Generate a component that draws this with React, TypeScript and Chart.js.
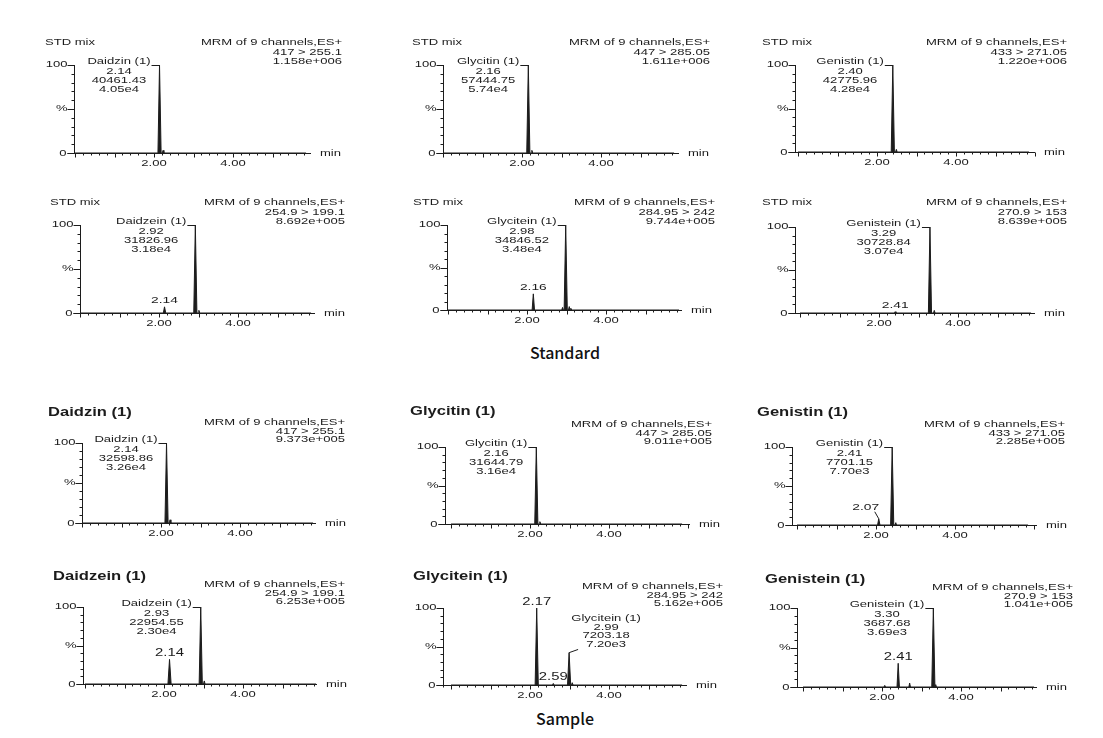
import React, { useEffect, useRef } from "react";
import { Chart, registerables } from "chart.js";

Chart.register(...registerables);

// ---------------- DATA ----------------
const compounds = ["Daidzin (1)", "Glycitin (1)", "Genistin (1)", "Daidzein (1)", "Glycitein (1)", "Genistein (1)"];
const transitions = ["417 > 255.1", "447 > 285.05", "433 > 271.05", "254.9 > 199.1", "284.95 > 242", "270.9 > 153"];
const headerText = "MRM of 9 channels,ES+";
const stdTitle = "STD mix";
const xTickLabels = [2, 4];

const stdMaxIntensity = ["1.158e+006", "1.611e+006", "1.220e+006", "8.692e+005", "9.744e+005", "8.639e+005"];
const stdRT = [2.14, 2.16, 2.4, 2.92, 2.98, 3.29];
const stdArea = ["40461.43", "57444.75", "42775.96", "31826.96", "34846.52", "30728.84"];
const stdHeight = ["4.05e4", "5.74e4", "4.28e4", "3.18e4", "3.48e4", "3.07e4"];
const stdMinorRT = [[], [], [], [2.14], [2.16], [2.41]];

const sampleMaxIntensity = ["9.373e+005", "9.011e+005", "2.285e+005", "6.253e+005", "5.162e+005", "1.041e+005"];
const sampleRT = [2.14, 2.16, 2.41, 2.93, 2.99, 3.3];
const sampleArea = ["32598.86", "31644.79", "7701.15", "22954.55", "7203.18", "3687.68"];
const sampleHeight = ["3.26e4", "3.16e4", "7.70e3", "2.30e4", "7.20e3", "3.69e3"];
const sampleMinorRT = [[], [], [2.07], [2.14], [2.17, 2.59], [2.41]];

// traces: retention time (min) and relative intensity (%)
const stdDaidzinTime = [0, 2.1, 2.14, 2.18, 2.21, 2.23, 2.25, 5.85];
const stdDaidzinInt = [0, 0, 100, 0, 0, 3, 0, 0];
const stdGlycitinTime = [0, 2.12, 2.16, 2.2, 2.23, 2.25, 2.27, 5.85];
const stdGlycitinInt = [0, 0, 100, 0, 0, 3, 0, 0];
const stdGenistinTime = [0, 2.36, 2.4, 2.44, 2.47, 2.49, 2.51, 5.85];
const stdGenistinInt = [0, 0, 100, 0, 0, 3, 0, 0];
const stdDaidzeinTime = [0, 2.11, 2.14, 2.17, 2.88, 2.92, 2.96, 2.99, 3.01, 3.03, 5.85];
const stdDaidzeinInt = [0, 0, 7, 0, 0, 100, 0, 0, 3, 0, 0];
const stdGlyciteinTime = [0, 2.13, 2.16, 2.19, 2.88, 2.9, 2.92, 2.94, 2.98, 3.02, 3.05, 3.07, 3.09, 3.11, 3.13, 5.85];
const stdGlyciteinInt = [0, 0, 19, 0, 0, 3, 0, 0, 100, 0, 0, 4, 0, 2, 0, 0];
const stdGenisteinTime = [0, 2.39, 2.41, 2.43, 3.25, 3.29, 3.33, 3.38, 3.4, 3.42, 5.85];
const stdGenisteinInt = [0, 0, 1.5, 0, 0, 100, 0, 0, 3, 0, 0];

const smpDaidzinTime = [0, 2.1, 2.14, 2.18, 2.21, 2.23, 2.25, 5.85];
const smpDaidzinInt = [0, 0, 100, 0, 0, 4, 0, 0];
const smpGlycitinTime = [0, 2.12, 2.16, 2.2, 2.23, 2.25, 2.27, 5.85];
const smpGlycitinInt = [0, 0, 100, 0, 0, 3, 0, 0];
const smpGenistinTime = [0, 2.04, 2.07, 2.1, 2.37, 2.41, 2.45, 2.48, 2.5, 2.52, 5.85];
const smpGenistinInt = [0, 0, 8, 0, 0, 100, 0, 0, 3, 0, 0];
const smpDaidzeinTime = [0, 2.1, 2.14, 2.18, 2.89, 2.93, 2.97, 3.0, 3.02, 3.04, 5.85];
const smpDaidzeinInt = [0, 0, 32, 0, 0, 100, 0, 0, 4, 0, 0];
const smpGlyciteinTime = [0, 2.13, 2.17, 2.21, 2.57, 2.59, 2.61, 2.95, 2.99, 3.03, 3.05, 3.07, 3.09, 5.85];
const smpGlyciteinInt = [0, 0, 100, 0, 0, 2, 0, 0, 42, 0, 0, 3, 0, 0];
const smpGenisteinTime = [0, 2.05, 2.07, 2.09, 2.38, 2.41, 2.44, 2.68, 2.7, 2.72, 3.26, 3.3, 3.34, 3.36, 3.38, 5.85];
const smpGenisteinInt = [0, 0, 2, 0, 0, 30, 0, 0, 5, 0, 0, 100, 0, 3, 0, 0];

const stdTimes = [stdDaidzinTime, stdGlycitinTime, stdGenistinTime, stdDaidzeinTime, stdGlyciteinTime, stdGenisteinTime];
const stdInts = [stdDaidzinInt, stdGlycitinInt, stdGenistinInt, stdDaidzeinInt, stdGlyciteinInt, stdGenisteinInt];
const smpTimes = [smpDaidzinTime, smpGlycitinTime, smpGenistinTime, smpDaidzeinTime, smpGlyciteinTime, smpGenisteinTime];
const smpInts = [smpDaidzinInt, smpGlycitinInt, smpGenistinInt, smpDaidzeinInt, smpGlyciteinInt, smpGenisteinInt];

// ---------------- LAYOUT ----------------
const PX_PER_MIN = 39.5;
const SX = 1.45;
const FS = 9;
const FONT = '"Liberation Sans", Arial, Helvetica, sans-serif';
const INK = "#1c1c1c";

type Layout = {
  axisX: number; zeroX: number; axisEnd: number; top: number; bottom: number;
  titleX: number; titleY: number; hdrRight: number; hdrY: number; gap: number;
  annot?: { dx: number; dy: number };
  minorOff?: { dx: number; dy: number; leader?: boolean }[];
  minorSize?: number;
};

const stdLayout: Layout[] = [
  { axisX: 74, zeroX: 75, axisEnd: 311, top: 65, bottom: 153, titleX: 45, titleY: 43, hdrRight: 342, hdrY: 43, gap: 9.5 },
  { axisX: 443, zeroX: 443, axisEnd: 679, top: 65, bottom: 153, titleX: 412, titleY: 43, hdrRight: 710, hdrY: 43, gap: 9.5 },
  { axisX: 795, zeroX: 798, axisEnd: 1035, top: 65, bottom: 152, titleX: 762, titleY: 43, hdrRight: 1067, hdrY: 43, gap: 9.5 },
  { axisX: 80, zeroX: 80, axisEnd: 315, top: 225, bottom: 313, titleX: 50, titleY: 203, hdrRight: 345, hdrY: 203, gap: 9.5 },
  { axisX: 447, zeroX: 448, axisEnd: 682, top: 225, bottom: 310, titleX: 413, titleY: 203, hdrRight: 715, hdrY: 203, gap: 9.5 },
  { axisX: 795, zeroX: 800, axisEnd: 1035, top: 227, bottom: 313, titleX: 762, titleY: 203, hdrRight: 1067, hdrY: 203, gap: 9.5 },
];
const smpLayout: Layout[] = [
  { axisX: 82, zeroX: 82, axisEnd: 316, top: 443, bottom: 523, titleX: 48, titleY: 413, hdrRight: 345, hdrY: 423, gap: 8.5 },
  { axisX: 445, zeroX: 451, axisEnd: 690, top: 447, bottom: 524, titleX: 410, titleY: 412, hdrRight: 712, hdrY: 425, gap: 8.5 },
  { axisX: 792, zeroX: 797, axisEnd: 1037, top: 447, bottom: 525, titleX: 757, titleY: 413, hdrRight: 1065, hdrY: 425, gap: 8.5, minorOff: [{ dx: -13, dy: -11, leader: true }] },
  { axisX: 83, zeroX: 85, axisEnd: 317, top: 607, bottom: 684, titleX: 53, titleY: 577, hdrRight: 345, hdrY: 585, gap: 8.5, minorSize: 11 },
  { axisX: 443, zeroX: 451, axisEnd: 687, top: 608, bottom: 685, titleX: 413, titleY: 577, hdrRight: 723, hdrY: 587, gap: 8.5, annot: { dx: 37, dy: -34 }, minorSize: 11 },
  { axisX: 797, zeroX: 803, axisEnd: 1037, top: 608, bottom: 687, titleX: 765, titleY: 580, hdrRight: 1073, hdrY: 588, gap: 8.5, minorSize: 11 },
];

type Panel = {
  L: Layout; time: number[]; ints: number[]; title: string; boldTitle: boolean;
  hdr: string[]; rt: number; area: string; height: string; name: string; minor: number[];
};

const panels: Panel[] = [
  ...stdLayout.map((L, i) => ({
    L, time: stdTimes[i], ints: stdInts[i], title: stdTitle, boldTitle: false,
    hdr: [headerText, transitions[i], stdMaxIntensity[i]], rt: stdRT[i], area: stdArea[i], height: stdHeight[i],
    name: compounds[i], minor: stdMinorRT[i],
  })),
  ...smpLayout.map((L, i) => ({
    L, time: smpTimes[i], ints: smpInts[i], title: compounds[i], boldTitle: true,
    hdr: [headerText, transitions[i], sampleMaxIntensity[i]], rt: sampleRT[i], area: sampleArea[i], height: sampleHeight[i],
    name: compounds[i], minor: sampleMinorRT[i],
  })),
];

function txt(ctx: CanvasRenderingContext2D, s: string, x: number, y: number, align: "left" | "right" | "center", size = FS, bold = false, sx = SX) {
  ctx.save();
  ctx.font = `${bold ? "bold " : ""}${size}px ${FONT}`;
  const w = ctx.measureText(s).width * sx;
  let lx = x;
  if (align === "right") lx = x - w;
  else if (align === "center") lx = x - w / 2;
  ctx.translate(lx, y);
  ctx.scale(sx, 1);
  ctx.textAlign = "left";
  ctx.textBaseline = "middle";
  ctx.fillStyle = INK;
  ctx.fillText(s, 0, 0);
  ctx.restore();
  return w;
}

function line(ctx: CanvasRenderingContext2D, x1: number, y1: number, x2: number, y2: number) {
  ctx.beginPath();
  ctx.moveTo(x1, y1);
  ctx.lineTo(x2, y2);
  ctx.stroke();
}

function intensityAt(p: Panel, rt: number) {
  let best = 0, bd = 1e9;
  p.time.forEach((t, i) => {
    const d = Math.abs(t - rt);
    if (d < bd) { bd = d; best = p.ints[i]; }
  });
  return best;
}

function PanelChart({ p }: { p: Panel }) {
  const ref = useRef<HTMLCanvasElement>(null);
  const L = p.L;
  const cLeft = Math.min(L.titleX, L.axisX - 40) - 4;
  const cTop = Math.min(L.titleY, L.hdrY) - 10;
  const cRight = Math.max(L.hdrRight, L.axisEnd + 36) + 4;
  const cBottom = L.bottom + 18;
  const W = cRight - cLeft;
  const H = cBottom - cTop;

  useEffect(() => {
    const xMin = (L.axisX - L.zeroX) / PX_PER_MIN;
    const xMax = (L.axisEnd - L.zeroX) / PX_PER_MIN;
    const ox = cLeft, oy = cTop;
    const decor = {
      id: "decor",
      afterDraw(chart: any) {
        const ctx: CanvasRenderingContext2D = chart.ctx;
        const xs = chart.scales.x, ys = chart.scales.y;
        const ax = Math.round(xs.left) + 0.5;
        const ae = xs.right;
        const y0 = Math.round(ys.getPixelForValue(0)) + 0.5;
        ctx.save();
        ctx.strokeStyle = INK;
        ctx.lineWidth = 1;
        // axes
        line(ctx, ax, ys.getPixelForValue(100), ax, y0);
        line(ctx, ax - 7, y0, ae, y0);
        // y ticks
        for (let v = 0; v <= 100; v += 10) {
          const py = Math.round(ys.getPixelForValue(v)) + 0.5;
          const len = v % 50 === 0 ? 7 : 3;
          line(ctx, ax - len, py, ax, py);
        }
        txt(ctx, "100", ax - 7, ys.getPixelForValue(100), "right");
        txt(ctx, "%", ax - 7, ys.getPixelForValue(50), "right");
        txt(ctx, "0", ax - 8, y0, "right");
        // x ticks
        for (let k = Math.ceil(xMin / 0.2 - 1e-6); k * 0.2 <= xMax + 1e-6; k++) {
          const v = k * 0.2;
          const px = Math.round(xs.getPixelForValue(v)) + 0.5;
          const isInt = Math.abs(v - Math.round(v)) < 1e-6;
          const len = isInt ? 4 : 2;
          line(ctx, px, y0, px, y0 + len);
        }
        xTickLabels.forEach((v) => txt(ctx, v.toFixed(2), xs.getPixelForValue(v), y0 + 10, "center"));
        txt(ctx, "min", ae + 9, y0, "left");
        // header
        if (p.boldTitle) txt(ctx, p.title, L.titleX - ox, L.titleY - oy, "left", 12, true, 1.38);
        else txt(ctx, p.title, L.titleX - ox, L.titleY - oy, "left");
        p.hdr.forEach((s, i) => txt(ctx, s, L.hdrRight - ox, L.hdrY - oy + i * L.gap, "right"));
        // main peak annotation
        const px = xs.getPixelForValue(p.rt);
        const py = ys.getPixelForValue(intensityAt(p, p.rt));
        const lines = [p.name, p.rt.toFixed(2), p.area, p.height];
        if (!L.annot) {
          const nameRight = px - 9;
          const nameY = py - 3;
          const w = txt(ctx, p.name, nameRight, nameY, "right");
          const cx = nameRight - w / 2;
          for (let i = 1; i < lines.length; i++) txt(ctx, lines[i], cx, nameY + i * 9.2, "center");
          line(ctx, nameRight + 1, Math.round(py) + 0.5, px, Math.round(py) + 0.5);
        } else {
          const cx = px + L.annot.dx;
          const nameY = py + L.annot.dy;
          lines.forEach((s, i) => txt(ctx, s, cx, nameY + i * 8.6, "center"));
          line(ctx, cx - 28, nameY + 3 * 8.6 + 5, px, py);
        }
        // minor peak labels
        p.minor.forEach((rt, i) => {
          const mx = xs.getPixelForValue(rt);
          const my = ys.getPixelForValue(intensityAt(p, rt));
          const off = (L.minorOff && L.minorOff[i]) || { dx: 0, dy: -6 };
          txt(ctx, rt.toFixed(2), mx + off.dx, my + off.dy, "center", L.minorSize || FS + 0.5, false, L.minorSize ? 1.35 : SX);
          if ((off as any).leader) line(ctx, mx - 4, my - 7, mx, my);
        });
        ctx.restore();
      },
    };
    const chart = new Chart(ref.current as HTMLCanvasElement, {
      type: "line",
      data: {
        datasets: [
          {
            data: p.time.map((t, i) => ({ x: t, y: p.ints[i] })),
            borderColor: INK,
            backgroundColor: INK,
            borderWidth: 1,
            pointRadius: 0,
            fill: "origin",
            tension: 0,
            clip: false as any,
          },
        ],
      },
      options: {
        responsive: false,
        animation: false,
        devicePixelRatio: 1,
        events: [],
        layout: {
          padding: {
            left: L.axisX - cLeft,
            top: L.top - cTop,
            right: cRight - L.axisEnd,
            bottom: cBottom - L.bottom,
          },
        },
        scales: {
          x: { type: "linear", display: false, min: xMin, max: xMax },
          y: { display: false, min: 0, max: 100 },
        },
        plugins: { legend: { display: false }, tooltip: { enabled: false }, title: { display: false } },
      },
      plugins: [decor],
    });
    return () => chart.destroy();
  }, []);

  return (
    <canvas
      ref={ref}
      width={W}
      height={H}
      style={{ position: "absolute", left: cLeft, top: cTop, width: W, height: H }}
    />
  );
}

export default function App() {
  const cap: React.CSSProperties = {
    position: "absolute",
    transform: "translate(-50%, -50%)",
    fontFamily: '"Noto Sans CJK KR", "Noto Sans", sans-serif',
    fontSize: 16,
    fontWeight: 500,
    color: "#111",
    whiteSpace: "nowrap",
  };
  return (
    <div style={{ position: "absolute", left: 0, top: 0, width: 1103, height: 738, background: "#fff", overflow: "hidden" }}>
      {panels.map((p, i) => (
        <PanelChart key={i} p={p} />
      ))}
      <div style={{ ...cap, left: 565, top: 352 }}>Standard</div>
      <div style={{ ...cap, left: 565, top: 718 }}>Sample</div>
    </div>
  );
}
